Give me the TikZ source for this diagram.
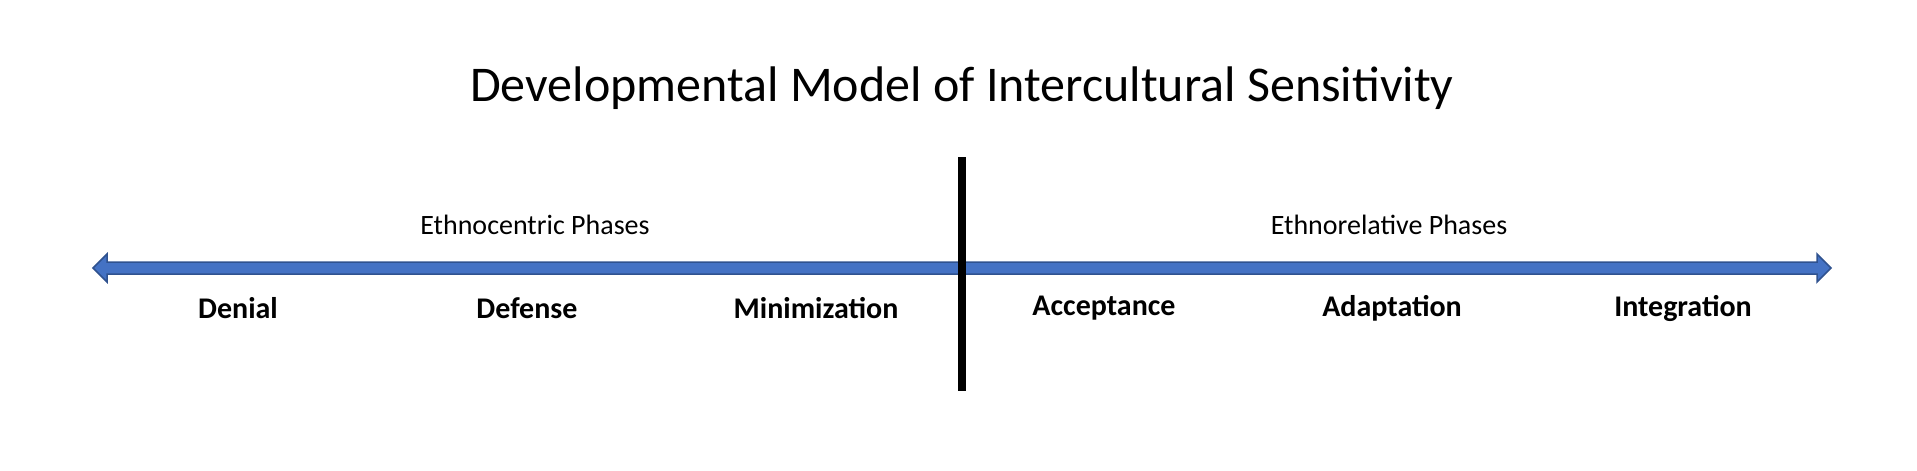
\documentclass[tikz,border=0pt]{standalone}
\usepackage{fontspec}
\setmainfont{Carlito}
\usetikzlibrary{calc}
\definecolor{ablue}{HTML}{4472C4}
\definecolor{aedge}{HTML}{2F528F}
\begin{document}
\begin{tikzpicture}[x=1pt,y=-1pt,
  stage/.style={font=\fontsize{30}{36}\selectfont\bfseries},
  phase/.style={font=\fontsize{28}{34}\selectfont}]
\useasboundingbox (0,0) rectangle (1917,471);
\node (title) at (962,88) {\fontsize{50}{60}\selectfont Developmental Model of Intercultural Sensitivity};
\coordinate (L) at (93,268);
\coordinate (R) at (1831,268);
\fill[ablue,draw=aedge,line width=1.5pt] (L) -- ++(14,-14) -- ++(0,8) -- ($(R)+(-14,-6)$) -- ++(0,-8) -- (R) -- ++(-14,14) -- ++(0,-8) -- ($(L)+(14,6)$) -- ++(0,8) -- cycle;
\coordinate (bt) at (962,157);
\coordinate (bb) at (962,391);
\draw[line width=8pt] (bt) -- (bb);
\node[phase] (ec) at (535,225) {Ethnocentric Phases};
\node[phase] (er) at (1389,225) {Ethnorelative Phases};
\node[stage] (s1) at (238,308) {Denial};
\node[stage] (s2) at (527,308) {Defense};
\node[stage] (s3) at (816,308) {Minimization};
\node[stage] (s4) at (1104,308) {Acceptance};
\node[stage] (s5) at (1392,308) {Adaptation};
\node[stage] (s6) at (1683,308) {Integration};
\end{tikzpicture}
\end{document}
